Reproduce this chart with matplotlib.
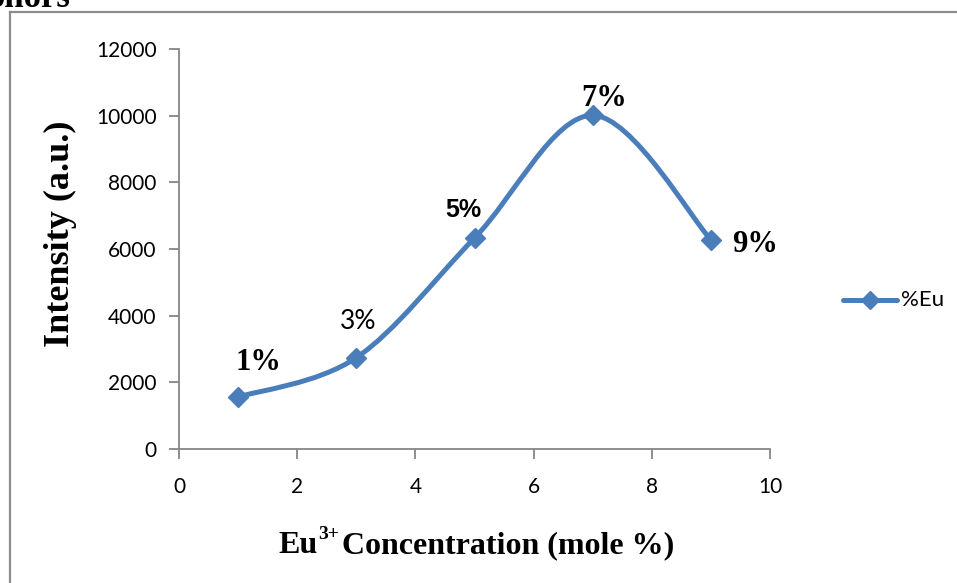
import numpy as np
import matplotlib.pyplot as plt
from matplotlib.path import Path
from matplotlib.patches import PathPatch
from matplotlib.lines import Line2D
from matplotlib.transforms import offset_copy

# Eu3+ doping level vs. emission intensity
conc = [1, 3, 5, 7, 9]
intensity = [1560, 2740, 6330, 10010, 6280]
point_labels = ['1%', '3%', '5%', '7%', '9%']

blue = '#4a7ebb'
grey = '#868686'

W, H = 957, 583
fig = plt.figure(figsize=(W / 100, H / 100), dpi=100)

def box(x0, y0, x1, y1):
    # pixel box (top-left origin) -> figure fraction rect
    return [x0 / W, 1 - y1 / H, (x1 - x0) / W, (y1 - y0) / H]

# outer chart frame, running off the page right and bottom
fig.add_artist(Line2D([9.5 / W, 9.5 / W], [0, 1 - 12 / H], color='#8c8c8c', lw=1.6))
fig.add_artist(Line2D([9.5 / W, 1], [1 - 12 / H, 1 - 12 / H], color='#8c8c8c', lw=1.6))
fig.text(-15 / W, 1 - 7 / H, 'phors', family='Liberation Serif', weight='bold',
         fontsize=25, va='baseline', ha='left')

ax = fig.add_axes(box(179, 49, 770, 449))
ax.set_xlim(0, 10)
ax.set_ylim(0, 12000)
ax.set_xticks(range(0, 11, 2))
ax.set_yticks(range(0, 12001, 2000))

for s in ['top', 'right']:
    ax.spines[s].set_visible(False)
for s in ['left', 'bottom']:
    ax.spines[s].set_color(grey)
    ax.spines[s].set_linewidth(1.3)
ax.tick_params(colors=grey, length=7, width=1.3, direction='out')
for lab in ax.get_xticklabels() + ax.get_yticklabels():
    lab.set_family('Lato')
    lab.set_fontsize(15)
    lab.set_color('black')
ax.tick_params(axis='x', pad=13)
ax.tick_params(axis='y', pad=9)

# smoothed line: cardinal bezier segments through the points
pts = np.column_stack([conc, intensity]).astype(float)
ext = np.vstack([pts[0], pts, pts[-1]])
verts = [pts[0]]
codes = [Path.MOVETO]
for i in range(len(pts) - 1):
    p0, p1, p2, p3 = ext[i], ext[i + 1], ext[i + 2], ext[i + 3]
    verts += [p1 + (p2 - p0) / 6, p2 - (p3 - p1) / 6, p2]
    codes += [Path.CURVE4] * 3
ax.add_patch(PathPatch(Path(verts, codes), fill=False, edgecolor=blue,
                       lw=3.6, capstyle='round', joinstyle='round', zorder=2))
ax.plot(conc, intensity, ls='none', marker='D', ms=10, color=blue, zorder=3)

serif_bold = dict(family='Liberation Serif', weight='bold', fontsize=22)
label_style = [
    ((14.4, 25.2), serif_bold),
    ((1.4, 26), dict(family='Lato', fontsize=19)),
    ((-8, 20), dict(family='Liberation Sans', weight='bold', fontsize=18)),
    ((8, 12), serif_bold),
    ((32, -3.6), serif_bold),
]
for x, y, txt, (off, style) in zip(conc, intensity, point_labels, label_style):
    ax.annotate(txt, (x, y), xytext=off, textcoords='offset points',
                ha='center', va='center', **style)

fig.text(60 / W, 1 - 234 / H, 'Intensity (a.u.)', rotation=90, ha='center',
         va='center', family='Liberation Serif', weight='bold', fontsize=26)

# x title assembled from pieces so the superscript stays in Times
xfont = dict(family='Liberation Serif', weight='bold', fontsize=23)
x0, yb = 278 / W, 1 - 553 / H
t1 = fig.text(x0, yb, 'Eu', va='baseline', ha='left', **xfont)
fig.canvas.draw()
r = fig.canvas.get_renderer()
bb = t1.get_window_extent(r)
t2 = fig.text(0, 0, '3+', va='baseline', ha='left',
              family='Liberation Serif', weight='bold', fontsize=14,
              transform=offset_copy(fig.transFigure, fig=fig, x=(bb.x1 + 1) / 100 * 72,
                                    y=(yb * H) / 100 * 72 + 10, units='points'))
bb2 = t2.get_window_extent(r)
fig.text(0, 0, 'Concentration (mole %)', va='baseline', ha='left',
         transform=offset_copy(fig.transFigure, fig=fig, x=(bb2.x1 + 3) / 100 * 72,
                               y=(yb * H) / 100 * 72, units='points'),
         **xfont)

# legend at the right
lx0, lx1, ly = 843 / W, 897 / W, 1 - 300 / H
fig.add_artist(Line2D([lx0, lx1], [ly, ly], color=blue, lw=3.6,
                      solid_capstyle='round'))
fig.add_artist(Line2D([(lx0 + lx1) / 2], [ly], color=blue, marker='D', ms=9))
fig.text(901 / W, ly, '%Eu', family='Lato', fontsize=16, va='center', ha='left')

fig.savefig('out.png', dpi=100)
